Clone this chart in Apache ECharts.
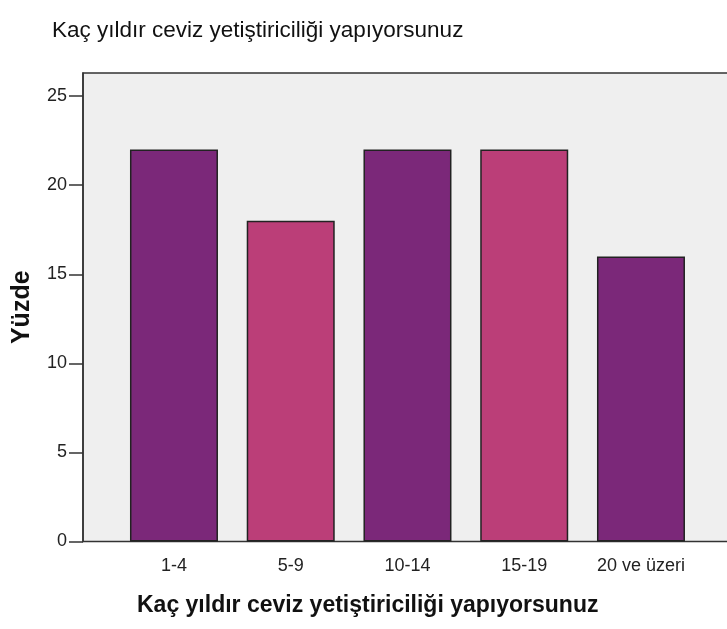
<!DOCTYPE html>
<html>
<head>
<meta charset="utf-8">
<script src="https://cdn.jsdelivr.net/npm/echarts@6/dist/echarts.min.js"></script>
<style>
  html, body { margin: 0; padding: 0; background: #fff; }
  #chart { width: 727px; height: 629px; }
</style>
</head>
<body>
<div id="chart"></div>
<script>
// veriler
var categories = ['1-4', '5-9', '10-14', '15-19', '20 ve üzeri'];
var percentValues = [22, 18, 22, 22, 16];
var yTicks = [0, 5, 10, 15, 20, 25];
var barColors = ['#7b2879', '#bb3e78', '#7b2879', '#bb3e78', '#7b2879'];

var myChart = echarts.init(document.getElementById('chart'));

var yMax = 26.3;

var option = {
    animation: false,
    title: [
        {
            text: 'Kaç yıldır ceviz yetiştiriciliği yapıyorsunuz',
            left: 52,
            top: 19,
            padding: 0,
            textStyle: { fontFamily: 'Liberation Sans', fontSize: 22.5, fontWeight: 'normal', color: '#111' }
        },
        {
            text: 'Kaç yıldır ceviz yetiştiriciliği yapıyorsunuz',
            left: 137,
            top: 594,
            padding: 0,
            textStyle: { fontFamily: 'Liberation Sans', fontSize: 23, fontWeight: 'bold', color: '#111' }
        }
    ],
    grid: [
        // cerceve (sag kenar resmin disinda)
        { left: 83, width: 670, top: 73, bottom: 87.5, show: true, outerBoundsMode: 'none',
          backgroundColor: '#efefef', borderColor: '#333', borderWidth: 1.5 },
        // cubuklar
        { left: 115.6, width: 583.75, top: 73, bottom: 87.5, outerBoundsMode: 'none' }
    ],
    xAxis: [
        { gridIndex: 0, type: 'value', show: false, min: 0, max: 1 },
        {
            gridIndex: 1,
            type: 'category',
            data: categories,
            axisLine: { show: false },
            axisTick: { alignWithLabel: true, interval: 0, length: 11, lineStyle: { color: '#333', width: 1.5 } },
            axisLabel: { interval: 0, margin: 16, fontFamily: 'Liberation Sans', fontSize: 18, color: '#222' }
        }
    ],
    yAxis: [
        {
            gridIndex: 0,
            type: 'value',
            min: 0,
            max: yMax,
            name: 'Yüzde',
            nameLocation: 'middle',
            nameGap: 48,
            nameTextStyle: { fontFamily: 'Liberation Sans', fontSize: 25, fontWeight: 'bold', color: '#111' },
            splitLine: { show: false },
            axisLine: { show: true, lineStyle: { color: '#333', width: 1.5 } },
            axisTick: { show: true, length: 14, customValues: yTicks, lineStyle: { color: '#333', width: 1.5 } },
            axisLabel: { margin: 16, customValues: yTicks, fontFamily: 'Liberation Sans', fontSize: 18, color: '#222' }
        },
        { gridIndex: 1, type: 'value', min: 0, max: yMax, show: false }
    ],
    series: [
        {
            type: 'bar',
            xAxisIndex: 1,
            yAxisIndex: 1,
            barWidth: 88,
            data: percentValues.map(function (v, i) {
                return { value: v, itemStyle: { color: barColors[i] } };
            }),
            itemStyle: { borderColor: '#222', borderWidth: 1.5 }
        }
    ]
};

myChart.setOption(option);
</script>
</body>
</html>
